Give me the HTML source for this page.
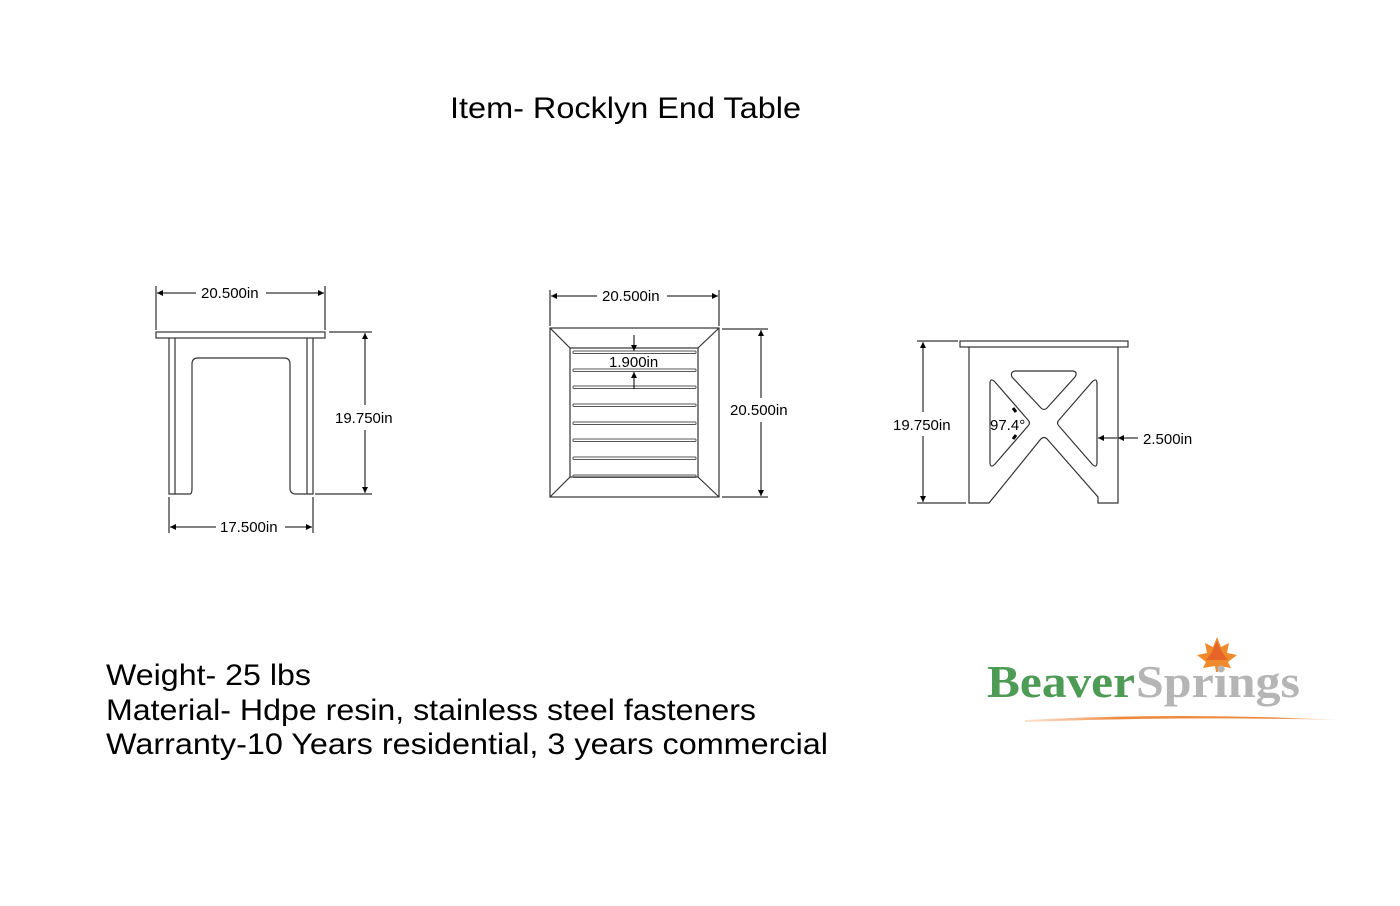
<!DOCTYPE html>
<html><head><meta charset="utf-8"><style>
html,body{margin:0;padding:0;background:#fff;}
svg{display:block}
text{font-family:"Liberation Sans",Arial,sans-serif;fill:#000}
</style></head><body>
<svg width="1400" height="906" viewBox="0 0 1400 906" xmlns="http://www.w3.org/2000/svg">
<defs>
<marker id="a" viewBox="0 0 10 10" refX="10" refY="5" markerWidth="8" markerHeight="6" orient="auto-start-reverse" markerUnits="userSpaceOnUse"><path d="M0,0 L10,5 L0,10 z" fill="#000"/></marker>
<linearGradient id="og" x1="0" x2="1"><stop offset="0" stop-color="#f2a060" stop-opacity="0.3"/><stop offset="0.3" stop-color="#ee8a40"/><stop offset="0.8" stop-color="#ee8a40"/><stop offset="1" stop-color="#f2a060" stop-opacity="0.2"/></linearGradient>
</defs>
<text x="450" y="118" font-size="30" textLength="351" lengthAdjust="spacingAndGlyphs">Item- Rocklyn End Table</text>

<g fill="none" stroke="#333" stroke-width="1.2">
<rect x="156" y="332" width="169" height="6"/>
<path d="M169,338 V494 H190 Q192,494 192,488 V364 Q192,358 198,358 H284 Q290,358 290,364 V488 Q290,494 296,494 H313 V338"/>
<line x1="175" y1="338" x2="175" y2="494"/>
<line x1="307" y1="338" x2="307" y2="494"/>
<rect x="550" y="328" width="169" height="169"/>
<rect x="570" y="348" width="128" height="129"/>
<line x1="550" y1="328" x2="570" y2="348"/><line x1="719" y1="328" x2="698" y2="348"/>
<line x1="550" y1="497" x2="570" y2="477"/><line x1="719" y1="497" x2="698" y2="477"/>
</g>
<g fill="none" stroke="#555" stroke-width="1">
<rect x="573" y="351" width="123" height="2.5" rx="1"/>
<rect x="573" y="369" width="123" height="2.5" rx="1"/>
<rect x="573" y="386" width="123" height="2.5" rx="1"/>
<rect x="573" y="404" width="123" height="2.5" rx="1"/>
<rect x="573" y="422" width="123" height="2.5" rx="1"/>
<rect x="573" y="439" width="123" height="2.5" rx="1"/>
<rect x="573" y="457" width="123" height="2.5" rx="1"/>
<rect x="573" y="475" width="123" height="2.5" rx="1"/>
</g>
<g fill="none" stroke="#333" stroke-width="1.2">
<rect x="960" y="341" width="168" height="6"/>
<path d="M969,347 V503 H989 L1040,440 Q1044,435 1048,440 L1098,497 V503 H1118 V347"/>
<path d="M1015,371 H1073 Q1078,372 1075,377 L1047,408 Q1044,411 1041,408 L1012,377 Q1010,372 1015,371 Z"/>
<path d="M990,384 Q990,377 995,382 L1028,420 Q1031,423 1028,426 L995,464 Q990,469 990,462 Z"/>
<path d="M1097,384 Q1097,377 1092,382 L1059,420 Q1056,423 1059,426 L1092,464 Q1097,469 1097,462 Z"/>
</g>

<g stroke="#000" stroke-width="1" fill="none">
<line x1="156" y1="286" x2="156" y2="330"/><line x1="325" y1="286" x2="325" y2="330"/>
<line x1="157" y1="293" x2="196" y2="293" marker-start="url(#a)"/><line x1="266" y1="293" x2="324" y2="293" marker-end="url(#a)"/>
<line x1="329" y1="332" x2="372" y2="332"/><line x1="315" y1="494" x2="372" y2="494"/>
<line x1="365" y1="333" x2="365" y2="405" marker-start="url(#a)"/><line x1="365" y1="430" x2="365" y2="493" marker-end="url(#a)"/>
<line x1="169" y1="497" x2="169" y2="533"/><line x1="313" y1="497" x2="313" y2="533"/>
<line x1="170" y1="527" x2="216" y2="527" marker-start="url(#a)"/><line x1="285" y1="527" x2="312" y2="527" marker-end="url(#a)"/>
<line x1="550" y1="290" x2="550" y2="326"/><line x1="719" y1="290" x2="719" y2="326"/>
<line x1="551" y1="296" x2="597" y2="296" marker-start="url(#a)"/><line x1="667" y1="296" x2="718" y2="296" marker-end="url(#a)"/>
<line x1="722" y1="329" x2="768" y2="329"/><line x1="722" y1="497" x2="768" y2="497"/>
<line x1="761" y1="330" x2="761" y2="398" marker-start="url(#a)"/><line x1="761" y1="422" x2="761" y2="496" marker-end="url(#a)"/>
<line x1="634" y1="335" x2="634" y2="351" marker-end="url(#a)"/>
<line x1="634" y1="389" x2="634" y2="372" marker-end="url(#a)"/>
<line x1="917" y1="341" x2="958" y2="341"/><line x1="917" y1="503" x2="966" y2="503"/>
<line x1="923" y1="342" x2="923" y2="412" marker-start="url(#a)"/><line x1="923" y1="436" x2="923" y2="502" marker-end="url(#a)"/>
<line x1="1098" y1="438" x2="1104" y2="438" marker-start="url(#a)"/>
<line x1="1104" y1="438" x2="1117" y2="438"/>
<line x1="1118" y1="438" x2="1138" y2="438" marker-start="url(#a)"/>
<line x1="1013" y1="408" x2="1016" y2="412" stroke-width="3"/>
<line x1="1013" y1="439" x2="1016" y2="435" stroke-width="3"/>
</g>
<g font-size="15">
<text x="201" y="298">20.500in</text>
<text x="335" y="423">19.750in</text>
<text x="220" y="532">17.500in</text>
<text x="602" y="301">20.500in</text>
<text x="609" y="367">1.900in</text>
<text x="730" y="415">20.500in</text>
<text x="893" y="430">19.750in</text>
<text x="990" y="430">97.4°</text>
<text x="1143" y="444">2.500in</text>
</g>

<g font-size="30">
<text x="106" y="685" textLength="205" lengthAdjust="spacingAndGlyphs">Weight- 25 lbs</text>
<text x="106" y="720" textLength="650" lengthAdjust="spacingAndGlyphs">Material- Hdpe resin, stainless steel fasteners</text>
<text x="106" y="754" textLength="722" lengthAdjust="spacingAndGlyphs">Warranty-10 Years residential, 3 years commercial</text>
</g>

<path d="M1217,637 L1221,647 L1229,643 L1227,653 L1237,655 L1228,662 L1231,668 L1219,666 L1218,672 L1216,672 L1215,666 L1203,668 L1206,662 L1197,655 L1207,653 L1205,643 L1213,647 Z" fill="#f08a2a"/>
<path d="M1212,652 L1217,641 L1222,652 L1228,660 L1206,660 Z" fill="#e0542a" opacity="0.7"/>
<text x="987" y="697" style="font-family:'Liberation Serif',serif;font-size:46px;font-weight:bold;fill:#4e9b55" textLength="148" lengthAdjust="spacingAndGlyphs">Beaver</text>
<text x="1136" y="697" style="font-family:'Liberation Serif',serif;font-size:46px;font-weight:bold;fill:#b5b5b5" textLength="164" lengthAdjust="spacingAndGlyphs">Springs</text>
<path d="M1025,720 Q1180,712 1340,720 Q1180,716 1025,722 Z" fill="url(#og)"/>
</svg>
</body></html>
